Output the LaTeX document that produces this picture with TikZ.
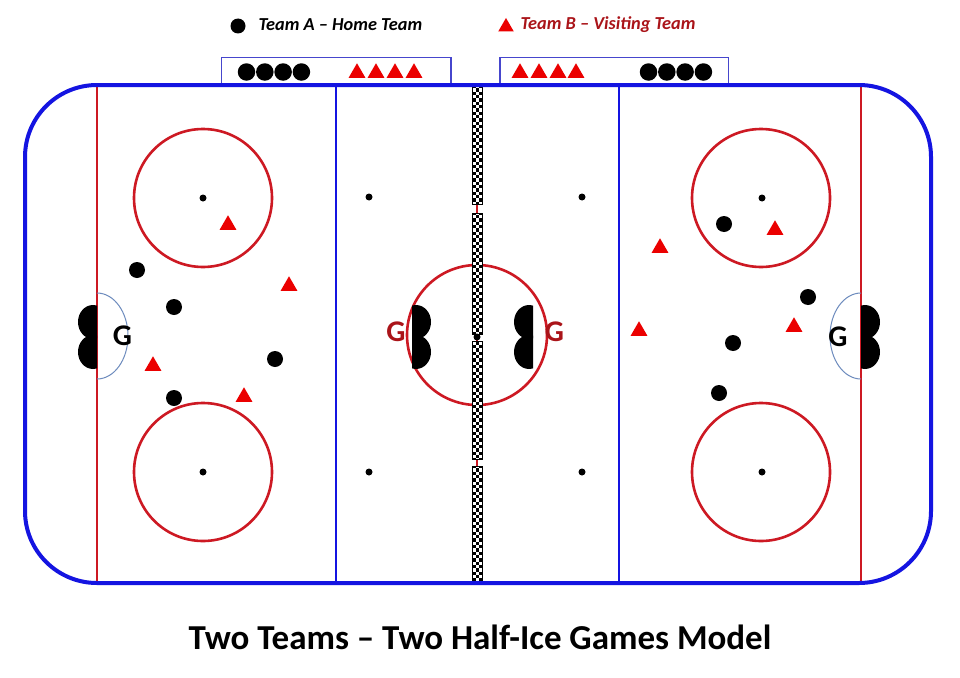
\documentclass[tikz,border=0pt]{standalone}
\usepackage{fontspec}
\setmainfont{Carlito}
\usetikzlibrary{shapes.geometric}
\definecolor{rinkblue}{RGB}{20,20,225}
\definecolor{rinkred}{RGB}{205,25,35}
\definecolor{trired}{RGB}{235,0,0}
\definecolor{darkred}{RGB}{170,20,25}
\definecolor{creaseblue}{RGB}{110,140,190}
\definecolor{benchblue}{RGB}{70,70,205}
\tikzset{
  pa/.style={circle, fill=black, minimum size=16pt, inner sep=0pt},
  pbench/.style={circle, fill=black, minimum size=17.5pt, inner sep=0pt},
  pb/.style={regular polygon, regular polygon sides=3, fill=trired, minimum size=19.5pt, inner sep=0pt},
  fodot/.style={circle, fill=black, minimum size=7pt, inner sep=0pt},
  facecircle/.style={draw=rinkred, line width=2.6pt},
  goalmark/.style={font=\fontsize{30}{32}\selectfont\bfseries},
  legendtext/.style={anchor=west, font=\fontsize{18.3}{21}\selectfont\bfseries\itshape},
  goal/.pic={
    \begin{scope}
      \clip (0,-40) rectangle (-30,40);
      \fill (-4,-15) ellipse [x radius=15, y radius=17];
      \fill (-4,15) ellipse [x radius=15, y radius=17];
    \end{scope}
  }
}
\begin{document}
\begin{tikzpicture}[x=1pt,y=-1pt]
\useasboundingbox[fill=white] (0,0) rectangle (960,677);

% legend
\node[pa, minimum size=15pt] (legA) at (238,26) {};
\node[legendtext] (legAt) at (255,25) {Team A -- Home Team};
\node[pb, minimum size=18pt] (legB) at (506,27) {};
\node[legendtext, text=darkred] (legBt) at (517,25) {Team B -- Visiting Team};

% benches
\draw[benchblue, line width=1.3pt] (221.5,85) -- (221.5,57.5) -- (451,57.5) -- (451,85);
\draw[benchblue, line width=1.3pt] (500,85) -- (500,57.5) -- (728.5,57.5) -- (728.5,85);
\foreach \x [count=\i] in {246.5,264.8,283.1,301.4}
  \node[pbench] (ba\i) at (\x,72) {};
\foreach \x [count=\i] in {357,376,395,414}
  \node[pb] (bb\i) at (\x,73) {};
\foreach \x [count=\i] in {520,539,558,576}
  \node[pb] (cb\i) at (\x,73) {};
\foreach \x [count=\i] in {648.5,666.8,685.1,703.4}
  \node[pbench] (ca\i) at (\x,72) {};

% goal lines and blue lines
\draw[rinkred, line width=2.2pt] (97,85) -- (97,583);
\draw[rinkred, line width=2.2pt] (861,85) -- (861,583);
\draw[rinkblue, line width=2pt] (336,85) -- (336,583);
\draw[rinkblue, line width=2pt] (619,85) -- (619,583);

% faceoff circles
\draw[facecircle] (203,198) circle[radius=69];
\draw[facecircle] (203,472) circle[radius=69];
\draw[facecircle] (761,198) circle[radius=69];
\draw[facecircle] (761,472) circle[radius=69];
\draw[facecircle] (477,335) circle[radius=70];

\node[fodot] (d1) at (203,198) {};
\node[fodot] (d2) at (203,472) {};
\node[fodot] (d3) at (762,198) {};
\node[fodot] (d4) at (762,472) {};
\node[fodot] (n1) at (369,197) {};
\node[fodot] (n2) at (582,197) {};
\node[fodot] (n3) at (369,472) {};
\node[fodot] (n4) at (582,472) {};

% checkered center line
\draw[rinkred, line width=2pt] (477,85) -- (477,583);
\begin{scope}
  \clip (472.5,85) rectangle (482.5,204) (472.5,213) rectangle (482.5,334)
        (472.5,341) rectangle (482.5,459) (472.5,466) rectangle (482.5,583);
  \fill[white] (472.5,85) rectangle (482.5,583);
  \foreach \k in {0,...,75}{
    \pgfmathsetmacro\yy{85+2*\k*10/3}
    \fill (472.5,\yy) rectangle ++(3.3333,3.3333);
    \fill (479.1667,\yy) rectangle ++(3.3333,3.3333);
    \fill (475.8333,\yy+3.3333) rectangle ++(3.3333,3.3333);
  }
\end{scope}
\foreach \s/\e in {85/204,213/334,341/459,466/583}
  \draw[line width=0.7pt] (472.5,\s) rectangle (482.5,\e);
\node[fodot] (cdot) at (477,337) {};

% creases
\draw[creaseblue, line width=1pt] (97,293) arc[start angle=-90, end angle=90, x radius=31, y radius=43];
\draw[creaseblue, line width=1pt] (861,293) arc[start angle=-90, end angle=-270, x radius=31, y radius=43];

% goals
\pic at (97,337) {goal};
\pic[xscale=-1] at (861,337) {goal};
\pic[xscale=-1] at (412,337) {goal};
\pic at (533,337) {goal};

\node[goalmark] (gl) at (122.5,336) {G};
\node[goalmark] (gr) at (838,337) {G};
\node[goalmark, text=darkred] (gcl) at (396,332) {G};
\node[goalmark, text=darkred] (gcr) at (554.5,332) {G};

% rink border
\draw[rinkblue, line width=4pt, rounded corners=72pt] (25,85) rectangle (931,583);

% left half players
\node[pa] (la1) at (137,270) {};
\node[pa] (la2) at (174,307) {};
\node[pa] (la3) at (275,359) {};
\node[pa] (la4) at (174,398) {};
\node[pb] (lb1) at (228,225) {};
\node[pb] (lb2) at (289,286) {};
\node[pb] (lb3) at (153,366) {};
\node[pb] (lb4) at (244,397) {};

% right half players
\node[pa] (ra1) at (724,224) {};
\node[pa] (ra2) at (808,297) {};
\node[pa] (ra3) at (733,343) {};
\node[pa] (ra4) at (719,393) {};
\node[pb] (rb1) at (660,248) {};
\node[pb] (rb2) at (775,230) {};
\node[pb] (rb3) at (639,331) {};
\node[pb] (rb4) at (794,327) {};

% title
\node[font=\fontsize{35}{40}\selectfont\bfseries] (title) at (480,637) {Two Teams -- Two Half-Ice Games Model};
\end{tikzpicture}
\end{document}
